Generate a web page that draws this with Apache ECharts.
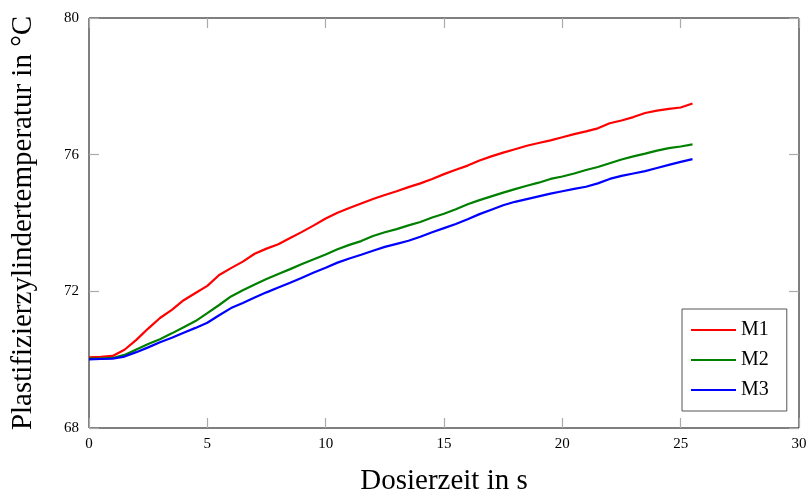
<!DOCTYPE html>
<html>
<head>
<meta charset="utf-8">
<script src="https://cdn.jsdelivr.net/npm/echarts@6/dist/echarts.min.js"></script>
<style>
  html, body { margin: 0; padding: 0; background: #fff; }
  #chart { width: 809px; height: 497px; }
</style>
</head>
<body>
<div id="chart"></div>
<script>
// Dosing time in seconds (shared sampling grid)
const time = [0, 0.5, 1, 1.5, 2, 2.5, 3, 3.5, 4, 4.5, 5, 5.5, 6, 6.5, 7, 7.5, 8, 8.5, 9, 9.5,
  10, 10.5, 11, 11.5, 12, 12.5, 13, 13.5, 14, 14.5, 15, 15.5, 16, 16.5, 17, 17.5, 18, 18.5, 19, 19.5,
  20, 20.5, 21, 21.5, 22, 22.5, 23, 23.5, 24, 24.5, 25, 25.5];

// Plasticizing cylinder temperature in °C
const m1 = [70.07, 70.08, 70.11, 70.29, 70.58, 70.91, 71.22, 71.46, 71.74, 71.95, 72.16, 72.48, 72.68, 72.87, 73.10, 73.25, 73.38, 73.56, 73.74, 73.93,
  74.13, 74.30, 74.44, 74.57, 74.70, 74.82, 74.93, 75.05, 75.16, 75.29, 75.43, 75.56, 75.68, 75.83, 75.95, 76.06, 76.16, 76.26, 76.34, 76.42,
  76.51, 76.60, 76.68, 76.77, 76.92, 77.00, 77.10, 77.22, 77.29, 77.34, 77.38, 77.50];
const m2 = [70.03, 70.03, 70.05, 70.14, 70.30, 70.46, 70.60, 70.77, 70.95, 71.13, 71.36, 71.60, 71.85, 72.03, 72.20, 72.36, 72.51, 72.65, 72.80, 72.94,
  73.08, 73.23, 73.36, 73.47, 73.62, 73.73, 73.82, 73.93, 74.03, 74.16, 74.27, 74.40, 74.55, 74.67, 74.78, 74.89, 74.99, 75.09, 75.18, 75.29,
  75.36, 75.45, 75.55, 75.64, 75.75, 75.86, 75.95, 76.03, 76.12, 76.19, 76.24, 76.30];
const m3 = [70.01, 70.02, 70.03, 70.09, 70.22, 70.36, 70.51, 70.64, 70.79, 70.93, 71.08, 71.30, 71.51, 71.66, 71.82, 71.97, 72.11, 72.25, 72.40, 72.55,
  72.69, 72.84, 72.96, 73.07, 73.19, 73.30, 73.39, 73.48, 73.60, 73.73, 73.85, 73.97, 74.11, 74.26, 74.39, 74.52, 74.62, 74.70, 74.78, 74.86,
  74.93, 75.00, 75.06, 75.16, 75.29, 75.38, 75.45, 75.52, 75.61, 75.70, 75.79, 75.87];

const seriesNames = ['M1', 'M2', 'M3'];
const seriesColors = ['#ff0000', '#008000', '#0000ff'];
const seriesValues = [m1, m2, m3];

const FONT = 'Liberation Serif';

const chart = echarts.init(document.getElementById('chart'), null, { renderer: 'canvas' });

const tickStyle = { show: true, inside: true, length: 10, lineStyle: { color: '#aaaaaa', width: 1.2 } };

function xAxisDef(position, labels) {
  return {
    type: 'value', min: 0, max: 30, interval: 5, position: position,
    axisLine: { show: false, onZero: false },
    axisTick: tickStyle,
    splitLine: { show: false },
    axisLabel: { show: labels, color: '#000', fontFamily: FONT, fontSize: 15, margin: 9 },
    name: labels ? 'Dosierzeit in s' : '',
    nameLocation: 'middle', nameGap: 39,
    nameTextStyle: { color: '#000', fontFamily: FONT, fontSize: 29 }
  };
}
function yAxisDef(position, labels) {
  return {
    type: 'value', min: 68, max: 80, interval: 4, position: position,
    axisLine: { show: false, onZero: false },
    axisTick: tickStyle,
    splitLine: { show: false },
    axisLabel: { show: labels, color: '#000', fontFamily: FONT, fontSize: 15, margin: 10 },
    name: labels ? 'Plastifizierzylindertemperatur in °C' : '',
    nameLocation: 'middle', nameGap: 51,
    nameTextStyle: { color: '#000', fontFamily: FONT, fontSize: 29 }
  };
}

chart.setOption({
  animation: false,
  backgroundColor: '#fff',
  grid: {
    left: 89, right: 10, top: 18, bottom: 69,
    outerBoundsMode: 'none',
    containLabel: false,
    show: true, borderColor: '#000', borderWidth: 1, backgroundColor: 'transparent'
  },
  xAxis: [xAxisDef('bottom', true), xAxisDef('top', false)],
  yAxis: [yAxisDef('left', true), yAxisDef('right', false)],
  legend: {
    orient: 'vertical',
    left: 682, top: 309,
    data: seriesNames,
    icon: 'rect',
    itemWidth: 45, itemHeight: 2,
    itemGap: 10,
    padding: [11, 18, 11, 9],
    backgroundColor: '#fff',
    borderColor: '#555', borderWidth: 1,
    textStyle: { color: '#000', fontFamily: FONT, fontSize: 20, lineHeight: 20 }
  },
  series: seriesNames.map((name, i) => ({
    name: name,
    type: 'line',
    xAxisIndex: 0, yAxisIndex: 0,
    data: time.map((t, k) => [t, seriesValues[i][k]]),
    symbol: 'none',
    smooth: false,
    color: seriesColors[i],
    lineStyle: { color: seriesColors[i], width: 2.2 }
  }))
});
</script>
</body>
</html>
